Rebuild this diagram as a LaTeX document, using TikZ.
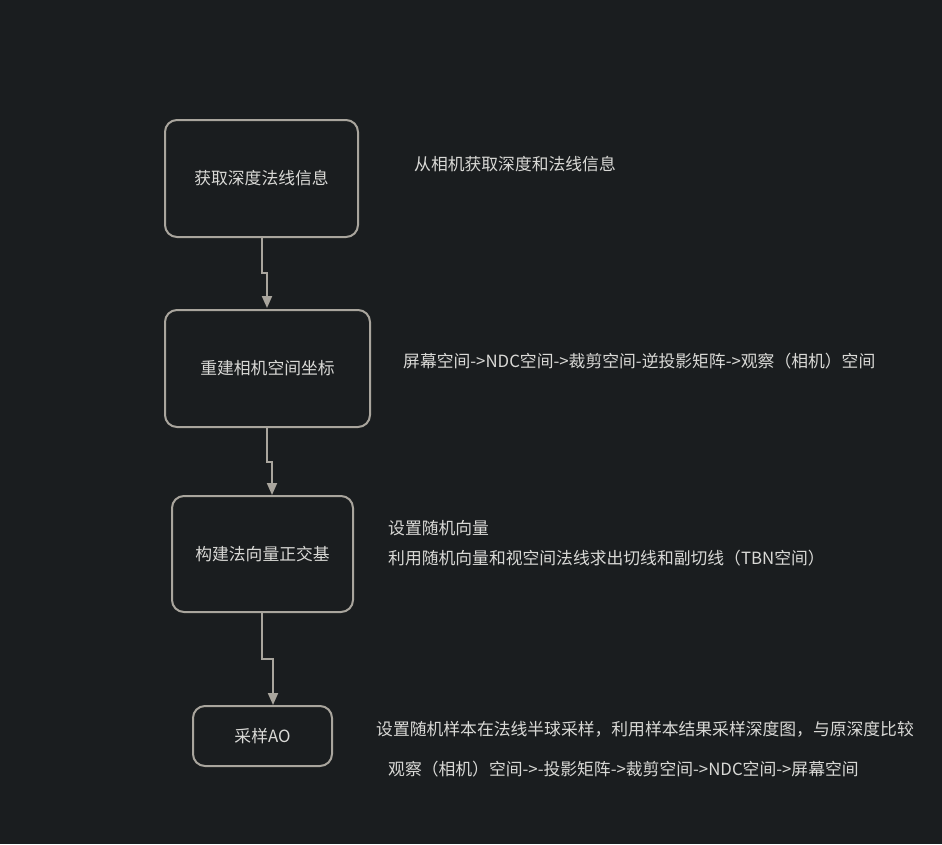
\documentclass[tikz,border=0pt]{standalone}
\usepackage{fontspec}
\setmainfont{Noto Sans CJK SC}
\usetikzlibrary{arrows.meta}
\definecolor{bg}{HTML}{1A1D1F}
\definecolor{edge}{HTML}{A9A59D}
\definecolor{txt}{HTML}{D9D9D6}
\tikzset{
  stepbox/.style={draw=edge, line width=2pt, rounded corners=12pt, fill=bg, text=txt, font=\fontsize{16.8pt}{20pt}\selectfont},
  note/.style={anchor=west, inner sep=0pt, text=txt, font=\fontsize{16.8pt}{20pt}\selectfont},
  flow/.style={draw=edge, line width=2pt, -{Triangle[width=10pt,length=12pt]}}
}
\begin{document}
\begin{tikzpicture}[x=1pt,y=-1pt]
\fill[bg] (0,0) rectangle (942,844);
\useasboundingbox (0,0) rectangle (942,844);
\node[stepbox, minimum width=193pt, minimum height=117pt] (b1) at (261.5,178.5) {获取深度法线信息};
\node[stepbox, minimum width=205pt, minimum height=117pt] (b2) at (267.5,368.5) {重建相机空间坐标};
\node[stepbox, minimum width=181pt, minimum height=116pt] (b3) at (262.5,554) {构建法向量正交基};
\node[stepbox, minimum width=139pt, minimum height=60pt] (b4) at (262.5,736) {采样AO};
\coordinate (s1) at (262,238);
\coordinate (s2) at (267,428);
\coordinate (s3) at (262,613);
\draw[flow] (s1) -- (262,273) -- (267,273) -- (267,308);
\draw[flow] (s2) -- (267,462) -- (272,462) -- (272,495);
\draw[flow] (s3) -- (262,659) -- (273,659) -- (273,705);
\node[note] (t1) at (414,164) {从相机获取深度和法线信息};
\node[note] (t2) at (403,361) {屏幕空间->NDC空间->裁剪空间-逆投影矩阵->观察（相机）空间};
\node[note] (t3) at (388,528) {设置随机向量};
\node[note] (t4) at (388,558) {利用随机向量和视空间法线求出切线和副切线（TBN空间）};
\node[note] (t5) at (376,729) {设置随机样本在法线半球采样，利用样本结果采样深度图，与原深度比较};
\node[note] (t6) at (388,769) {观察（相机）空间->-投影矩阵->裁剪空间->NDC空间->屏幕空间};
\end{tikzpicture}
\end{document}
